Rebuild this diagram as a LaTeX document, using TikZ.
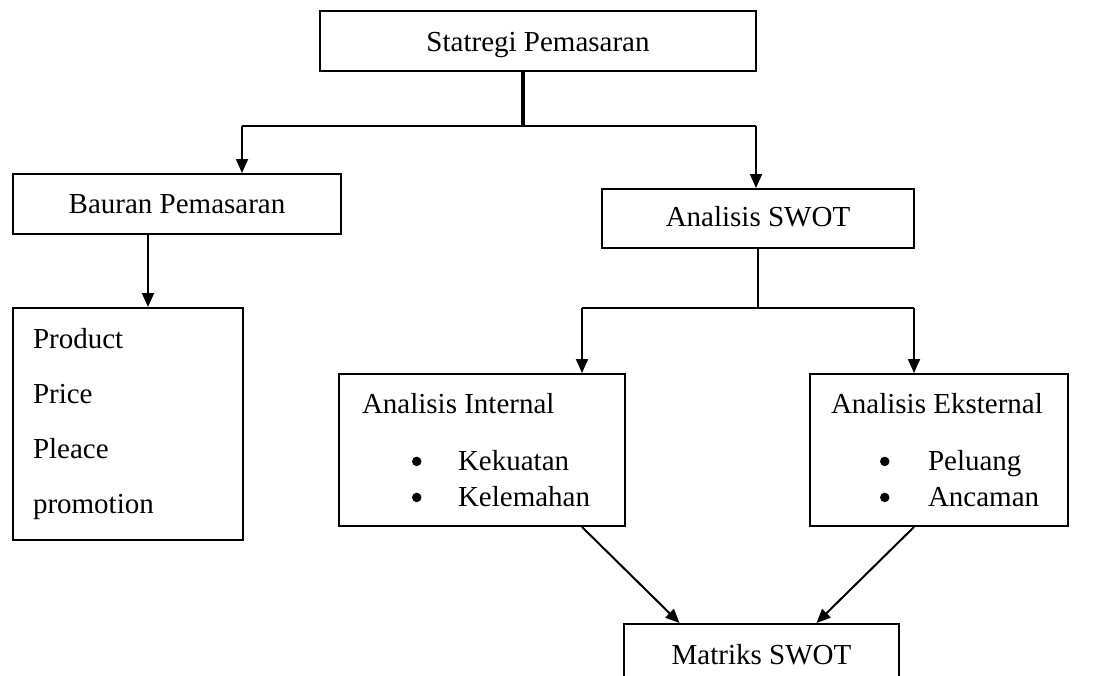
\documentclass[tikz,border=0pt]{standalone}
\usepackage{fontspec}
\setmainfont{Liberation Serif}
\usetikzlibrary{arrows.meta,calc}
% round list marker, drawn as a filled dot sitting near the x-height
\newcommand{\itemdot}{\raisebox{4.25pt}{\tikz\fill (0,0) circle (4.75pt);}}
\begin{document}
\begin{tikzpicture}[x=1pt,y=-1pt,
  font=\fontsize{29}{36}\selectfont,
  box/.style={draw, line width=2pt, inner sep=0pt, anchor=north west},
  listbox/.style={box, align=flush left, execute at begin node={\spaceskip=0pt\relax}},
  arr/.style={line width=2pt, -{Triangle[width=12pt,length=14pt]}},
  thinline/.style={line width=1.1pt},
  trunk/.style={line width=3.5pt},
]
\useasboundingbox (0,0) rectangle (1107,675);
\clip (0,0) rectangle (1107,675);

% boxes
\node[box, minimum width=436pt, text height=40pt, text depth=20pt] (top) at (319,10) {Statregi Pemasaran};
\node[box, minimum width=328pt, text height=39pt, text depth=21pt] (bauran) at (12,173) {Bauran Pemasaran};
\node[box, minimum width=312pt, text height=37pt, text depth=22pt] (swot) at (601,188) {Analisis SWOT};
\node[listbox, font=\fontsize{29}{55.3}\selectfont, minimum height=232pt,
      inner xsep=20pt, text width=190pt] (mix) at (12,307)
  {Product\\Price\\Pleace\\promotion};
\node[listbox, minimum height=152pt, inner xsep=23pt, text width=240pt] (internal) at (338,373)
  {Analisis Internal\\[21pt]
   \hspace*{50pt}\makebox[46pt][l]{\itemdot}Kekuatan\\
   \hspace*{50pt}\makebox[46pt][l]{\itemdot}Kelemahan};
\node[listbox, minimum height=152pt, inner xsep=21pt, text width=216pt] (eksternal) at (809,373)
  {Analisis Eksternal\\[21pt]
   \hspace*{49pt}\makebox[48pt][l]{\itemdot}Peluang\\
   \hspace*{49pt}\makebox[48pt][l]{\itemdot}Ancaman};
\node[box, minimum width=275pt, text height=40pt, text depth=40pt] (matriks) at (623,623) {Matriks SWOT};

% branch points
\coordinate (j1) at (523,126);
\coordinate (bl) at (242,126);
\coordinate (br) at (756,126);
\coordinate (sl) at (582,308);
\coordinate (sr) at (914,308);

% connectors
\draw[trunk] (j1 |- top.south) -- (j1);
\draw[thinline] (bl) -- (br);
\draw[arr] (bl) -- (bl |- bauran.north);
\draw[arr] (br) -- (br |- swot.north);
\draw[arr] ([xshift=-29pt]bauran.south) -- ([xshift=-29pt]bauran.south |- mix.north);
\draw[thinline] (swot.south) -- (swot.south |- sl);
\draw[thinline] (sl) -- (sr);
\draw[arr] (sl) -- (sl |- internal.north);
\draw[arr] (sr) -- (sr |- eksternal.north);
\draw[arr] (sl |- internal.south) -- ([xshift=-82pt]matriks.north);
\draw[arr] (sr |- eksternal.south) -- ([xshift=55pt]matriks.north);
\end{tikzpicture}
\end{document}
